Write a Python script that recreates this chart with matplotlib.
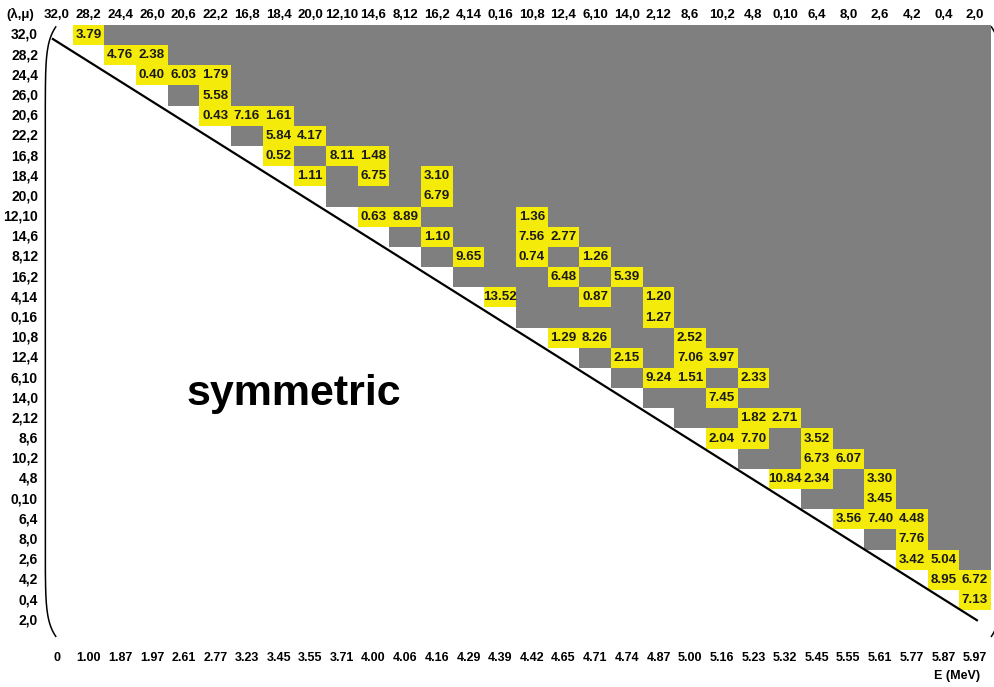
import numpy as np
import matplotlib
matplotlib.use("Agg")
import matplotlib.pyplot as plt
from matplotlib.colors import ListedColormap

plt.rcParams['font.family'] = ['Liberation Sans', 'DejaVu Sans']

# SU(3) irreps labelling rows and columns
irreps = ["32,0", "28,2", "24,4", "26,0", "20,6", "22,2", "16,8", "18,4", "20,0",
          "12,10", "14,6", "8,12", "16,2", "4,14", "0,16", "10,8", "12,4", "6,10",
          "14,0", "2,12", "8,6", "10,2", "4,8", "0,10", "6,4", "8,0", "2,6", "4,2",
          "0,4", "2,0"]

# excitation energies of the band heads
energies = ["0", "1.00", "1.87", "1.97", "2.61", "2.77", "3.23", "3.45", "3.55", "3.71",
            "4.00", "4.06", "4.16", "4.29", "4.39", "4.42", "4.65", "4.71", "4.74", "4.87",
            "5.00", "5.16", "5.23", "5.32", "5.45", "5.55", "5.61", "5.77", "5.87", "5.97"]

# non-zero matrix elements: row index, column index, value
b_row = [0, 1, 1, 2, 2, 2, 3, 4, 4, 4, 5, 5, 6, 6, 6, 7, 7, 7, 8, 9, 9, 9,
         10, 10, 10, 11, 11, 11, 12, 12, 13, 13, 13, 14, 15, 15, 15, 16, 16, 16,
         17, 17, 17, 18, 19, 19, 20, 20, 20, 21, 21, 22, 22, 22, 23, 24, 24, 24,
         25, 26, 26, 27, 27, 28]
b_col = [1, 2, 3, 3, 4, 5, 5, 5, 6, 7, 7, 8, 7, 9, 10, 8, 10, 12, 12, 10, 11, 15,
         12, 15, 16, 13, 15, 17, 16, 18, 14, 17, 19, 19, 16, 17, 20, 18, 20, 21,
         19, 20, 22, 21, 22, 23, 21, 22, 24, 24, 25, 23, 24, 26, 26, 25, 26, 27,
         27, 27, 28, 28, 29, 29]
b_val = [3.79, 4.76, 2.38, 0.40, 6.03, 1.79, 5.58, 0.43, 7.16, 1.61, 5.84, 4.17,
         0.52, 8.11, 1.48, 1.11, 6.75, 3.10, 6.79, 0.63, 8.89, 1.36,
         1.10, 7.56, 2.77, 9.65, 0.74, 1.26, 6.48, 5.39, 13.52, 0.87, 1.20, 1.27,
         1.29, 8.26, 2.52, 2.15, 7.06, 3.97, 9.24, 1.51, 2.33, 7.45, 1.82, 2.71,
         2.04, 7.70, 3.52, 6.73, 6.07, 10.84, 2.34, 3.30, 3.45, 3.56, 7.40, 4.48,
         7.76, 3.42, 5.04, 8.95, 6.72, 7.13]

n = len(irreps)
grid = np.triu(np.ones((n, n)), k=1)
for r, c in zip(b_row, b_col):
    grid[r, c] = 2

fig = plt.figure(figsize=(9.95, 6.87), dpi=100)
ax = fig.add_axes([0, 0, 1, 1])

cmap = ListedColormap(["white", "#7f7f7f", "#f5eb0a"])
edges = np.arange(n + 1) - 0.5
ax.pcolormesh(edges, edges, grid, cmap=cmap, vmin=0, vmax=2, zorder=1)

for r, c, v in zip(b_row, b_col, b_val):
    ax.text(c, r, f"{v:.2f}", ha="center", va="center", fontsize=9.6,
            fontweight="bold", color="#1a1a1a", zorder=3)

# diagonal
ax.plot([-0.13, 29.06], [0.2, 29.0], color="black", lw=1.6, zorder=2)

# matrix brackets
t = np.linspace(0, 1, 200)
bend = np.abs(2 * t - 1) ** 20
yb = -0.4 + t * 30.2
ax.plot(-0.37 + 0.33 * bend, yb, color="black", lw=1.1, zorder=2)
ax.plot(29.85 - 0.33 * bend, yb, color="black", lw=1.1, zorder=0)

# labels
for k, lab in enumerate(irreps):
    ax.text(k, -1.0, lab, ha="center", va="center", fontsize=9.5, fontweight="bold")
    ax.text(-0.6, k, lab, ha="right", va="center", fontsize=10, fontweight="bold")
for k, e in enumerate(energies):
    ax.text(k, 30.87, e, ha="center", va="center", fontsize=9, fontweight="bold")

ax.text(-1.15, -1.0, "(λ,μ)", ha="center", va="center", fontsize=9.5, fontweight="bold")
ax.text(28.43, 31.77, "E (MeV)", ha="center", va="center", fontsize=9, fontweight="bold")
ax.text(7.49, 18.33, "symmetric", ha="center", va="baseline", fontsize=31,
        fontweight="bold")

ax.set_xlim(-1.8007, 29.632)
ax.set_ylim(32.31, -1.734)
ax.axis("off")

fig.savefig("out.png", dpi=100)
